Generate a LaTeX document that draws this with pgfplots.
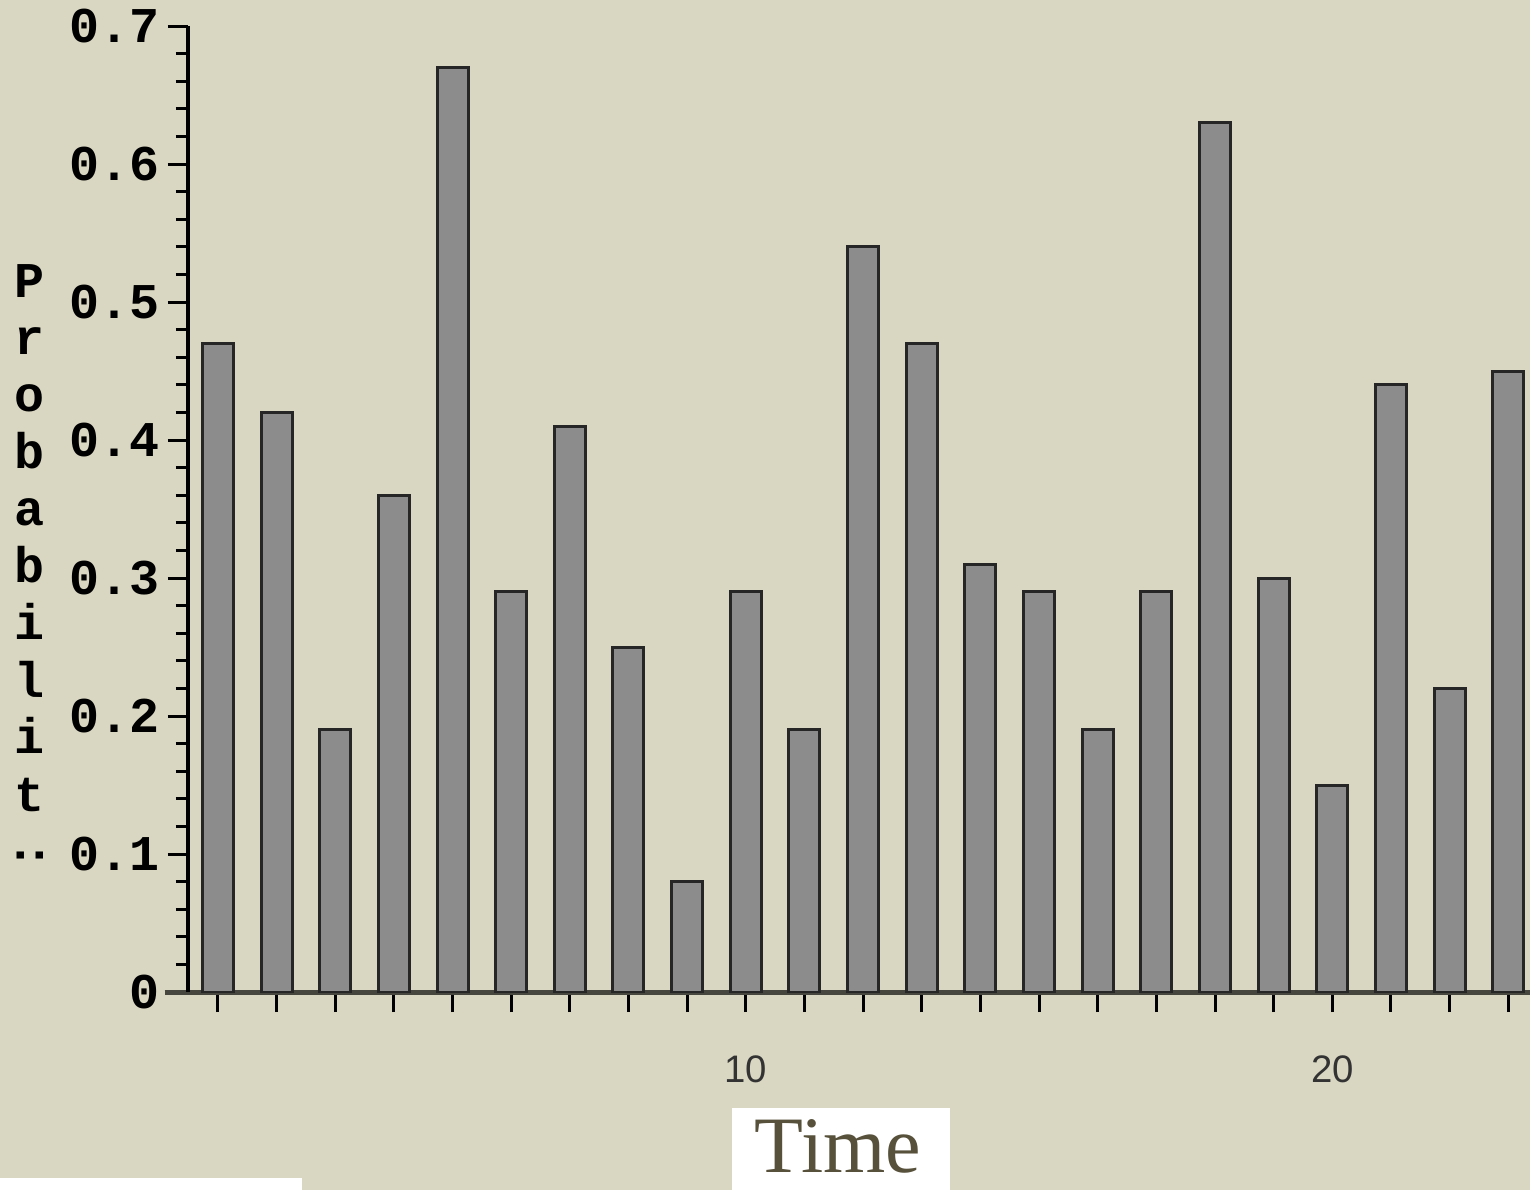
\documentclass[border=0pt]{standalone}
\usepackage{fontspec}
\setmainfont{Liberation Serif}
\setsansfont{Liberation Sans}
\setmonofont{Liberation Mono}
\usepackage{graphicx}
\usepackage{pgfplots}
\pgfplotsset{compat=1.18}
\definecolor{bg}{RGB}{217,215,194}
\definecolor{barfill}{RGB}{140,140,140}
\definecolor{timecol}{RGB}{87,81,59}
\definecolor{xaxcol}{RGB}{70,70,62}
\begin{document}
\begin{tikzpicture}
\useasboundingbox[fill=bg] (-56.4pt,-59.4pt) rectangle (402.6pt,297.6pt);
\begin{axis}[
  at={(0pt,0pt)}, anchor=south west,
  scale only axis, width=402.6pt, height=289.8pt,
  xmin=0.49, xmax=23.37, ymin=0, ymax=0.7,
  axis lines*=left,
  ytick={0,0.1,0.2,0.3,0.4,0.5,0.6,0.7},
  yticklabels={0,0.1,0.2,0.3,0.4,0.5,0.6,0.7},
  minor y tick num=4,
  xtick={1,...,23},
  xticklabels={,,,,,,,,,10,,,,,,,,,,20,,,},
  tick align=outside,
  major tick length=6pt, minor tick length=3.6pt,
  tick style={black, line width=0.9pt},
  y axis line style={black, line width=1.2pt},
  x axis line style={xaxcol, line width=1.5pt, shorten <=-7pt},
  yticklabel style={font=\ttfamily\bfseries\fontsize{15}{15}\selectfont, text=black, anchor=east, inner sep=0pt, xshift=-2.2pt},
  xticklabel style={font=\sffamily\fontsize{11.5}{11.5}\selectfont, text=black!80, anchor=north, inner sep=0pt, yshift=-13pt},
]
\addplot[ybar, bar width=9.3pt, fill=barfill, draw=black!85, line width=0.9pt] coordinates {
(1,0.47) (2,0.42) (3,0.19) (4,0.36) (5,0.67) (6,0.29) (7,0.41) (8,0.25)
(9,0.08) (10,0.29) (11,0.19) (12,0.54) (13,0.47) (14,0.31) (15,0.29) (16,0.19)
(17,0.29) (18,0.63) (19,0.30) (20,0.15) (21,0.44) (22,0.22) (23,0.45)};
\end{axis}
\foreach \c [count=\i from 0] in {P,r,o,b,a,b,i,l,i,t}
  \node[anchor=base, inner sep=0pt, font=\ttfamily\bfseries\fontsize{15}{15}\selectfont] at (-47.4pt, {(694-57*\i)*0.3pt}) {\c};
\node[inner sep=0pt, font=\ttfamily\bfseries\fontsize{15}{15}\selectfont] at (-47.4pt,41.1pt) {\rotatebox{90}{:}};
\fill[white] (163.2pt,-34.8pt) rectangle (228.6pt,-60pt);
\node[anchor=base, inner sep=0pt, font=\fontsize{24}{24}\selectfont, text=timecol] at (195pt,-54pt) {Time};
\fill[white] (-56.4pt,-55.8pt) rectangle (34.2pt,-60pt);
\end{tikzpicture}
\end{document}
